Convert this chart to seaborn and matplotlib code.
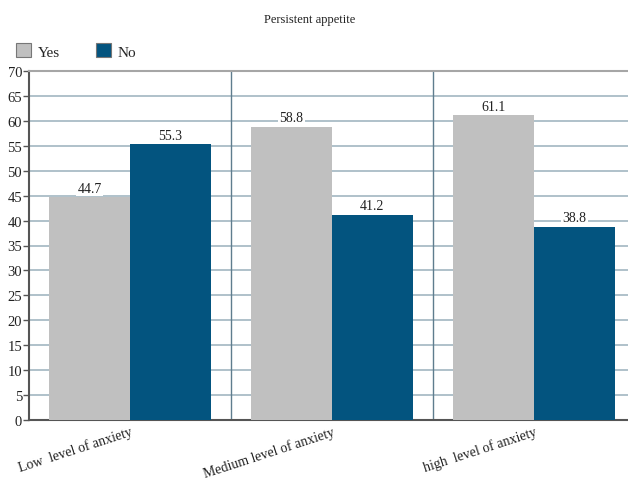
import matplotlib
matplotlib.use("Agg")
import matplotlib.pyplot as plt
import seaborn as sns
import pandas as pd
from matplotlib.patches import Patch

categories = ["Low  level of anxiety", "Medium level of anxiety", "high  level of anxiety"]
yes_values = [44.7, 58.8, 61.1]
no_values = [55.3, 41.2, 38.8]
series_names = ["Yes", "No"]
y_ticks = list(range(0, 75, 5))

df = pd.DataFrame({
    "category": categories * 2,
    "answer": [series_names[0]] * 3 + [series_names[1]] * 3,
    "value": yes_values + no_values,
})

sns.set_theme(style="white")
plt.rcParams["font.family"] = ["Liberation Serif", "DejaVu Serif"]

palette = {"Yes": "#c0c0c0", "No": "#03547f"}

fig = plt.figure(figsize=(6.28, 4.81), dpi=100)
ax = fig.add_axes([29 / 628, 1 - 421 / 481, 606 / 628, (421 - 72) / 481])

sns.barplot(data=df, x="category", y="value", hue="answer", palette=palette,
            width=0.8, saturation=1, ax=ax, legend=False, zorder=3, linewidth=0)

ax.set_ylim(0, 70)
ax.set_xlim(-0.5, 2.5)
ax.set_yticks(y_ticks)
ax.set_yticklabels([str(t) for t in y_ticks], fontsize=10.5, color="#222222")

# horizontal gridlines
for t in y_ticks[1:-1]:
    ax.axhline(t, color="#a9bcc6", lw=1.3, zorder=1)
# category separators
for xs in [0.5, 1.5]:
    ax.axvline(xs, color="#5f7d8e", lw=1.0, zorder=1)

ax.spines["right"].set_visible(False)
ax.spines["top"].set_color("#a6a6a6")
ax.spines["top"].set_linewidth(1.5)
ax.spines["left"].set_color("#555555")
ax.spines["left"].set_linewidth(1.5)
ax.spines["bottom"].set_color("#555555")
ax.spines["bottom"].set_linewidth(1.5)

ax.tick_params(axis="y", which="major", left=True, length=4, width=1, color="#555555", pad=1)
ax.tick_params(axis="x", which="major", bottom=False, pad=-3)
ax.set_xticks([0, 1, 2])
ax.set_xticklabels(categories, rotation=18, ha="right", rotation_mode="anchor",
                   fontsize=10, color="#222222")
ax.set_xlabel("")
ax.set_ylabel("")

# value labels above each bar
for container in ax.containers:
    for bar in container:
        h = bar.get_height()
        ax.text(bar.get_x() + bar.get_width() / 2, h + 0.5, f"{h:.1f}",
                ha="center", va="bottom", fontsize=10, color="#222222", zorder=4,
                bbox=dict(boxstyle="square,pad=0.1", fc="white", ec="none"))

fig.text(310 / 628, 1 - 20 / 481, "Persistent appetite", ha="center", va="center",
         fontsize=9, color="#222222")

handles = [Patch(facecolor=palette[n], edgecolor="#777777", lw=0.8, label=n) for n in series_names]
fig.legend(handles=handles, loc="center left", bbox_to_anchor=(16 / 628, 1 - 52 / 481),
           ncol=2, frameon=False, fontsize=11, handlelength=1.0, handleheight=1.0,
           handletextpad=0.4, columnspacing=2.4, borderaxespad=0, borderpad=0)

fig.savefig("out.png", dpi=100)
